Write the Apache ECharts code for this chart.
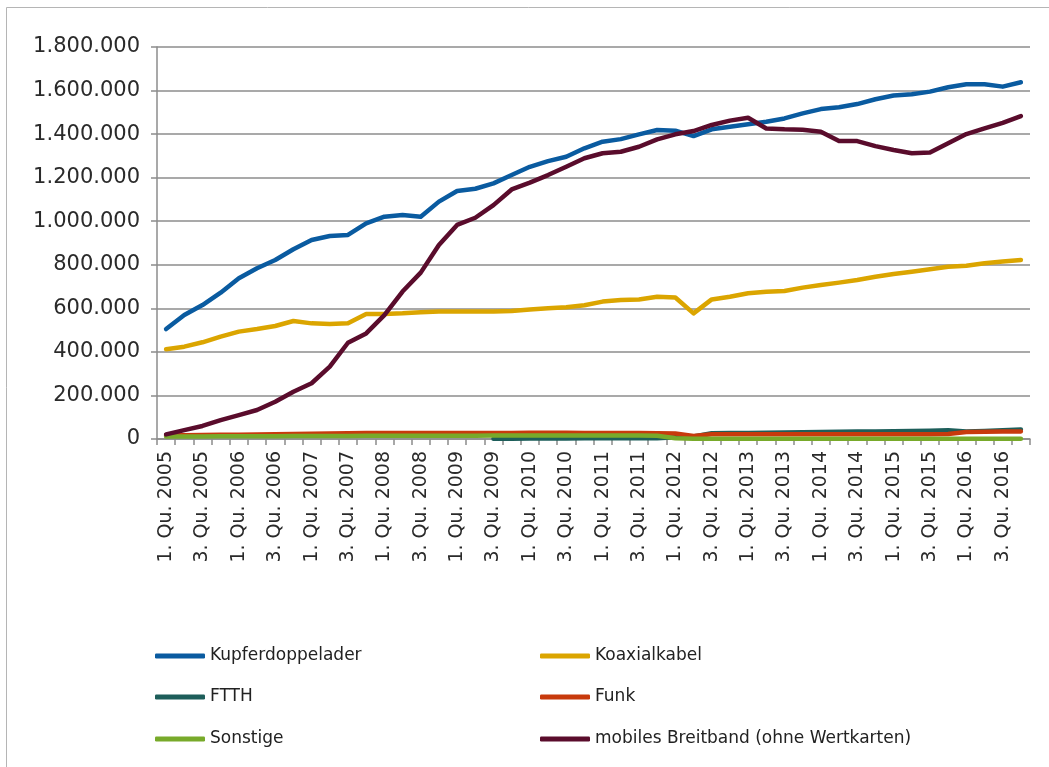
<!DOCTYPE html>
<html>
<head>
<meta charset="utf-8">
<script src="https://cdn.jsdelivr.net/npm/echarts@6/dist/echarts.min.js"></script>
<style>
  html, body { margin: 0; padding: 0; background: #ffffff; }
  #chart { width: 1049px; height: 767px; }
</style>
</head>
<body>
<div id="chart"></div>
<script>
// Quarters 1. Qu. 2005 – 4. Qu. 2016
const years = [2005, 2006, 2007, 2008, 2009, 2010, 2011, 2012, 2013, 2014, 2015, 2016];
const quarters = [1, 2, 3, 4];
const categories = [];
years.forEach(y => quarters.forEach(q => categories.push(q + '. Qu. ' + y)));

// Broadband connections per access technology
const kupferdoppelader = [505000, 569000, 615000, 672000, 738000, 784000, 822000, 871000, 914000, 932000, 937000, 990000,
  1021000, 1029000, 1021000, 1090000, 1139000, 1149000, 1174000, 1212000, 1250000, 1276000, 1296000, 1335000,
  1365000, 1377000, 1399000, 1419000, 1416000, 1391000, 1422000, 1434000, 1445000, 1457000, 1472000, 1495000,
  1515000, 1523000, 1538000, 1560000, 1577000, 1583000, 1595000, 1615000, 1629000, 1629000, 1618000, 1638000];

const koaxialkabel = [412000, 424000, 444000, 470000, 493000, 505000, 519000, 542000, 531000, 528000, 531000, 574000,
  574000, 577000, 582000, 585000, 585000, 585000, 585000, 588000, 595000, 600000, 605000, 614000,
  631000, 638000, 641000, 653000, 650000, 577000, 641000, 653000, 669000, 676000, 680000, 695000,
  707000, 718000, 730000, 745000, 758000, 768000, 779000, 791000, 796000, 807000, 815000, 822000];

const ftth = [null, null, null, null, null, null, null, null, null, null, null, null,
  null, null, null, null, null, null, 1000, 1000, 2000, 2000, 2000, 3000,
  3000, 3000, 4000, 4000, 8000, 12000, 26000, 27000, 28000, 29000, 30000, 31000,
  32000, 33000, 34000, 35000, 36000, 37000, 38000, 40000, 35000, 37000, 40000, 44000];

const funk = [16000, 17000, 18000, 19000, 20000, 21000, 22000, 23000, 24000, 25000, 26000, 27000,
  28000, 28000, 28000, 28000, 28000, 28000, 28000, 28000, 29000, 29000, 29000, 28000,
  28000, 27000, 27000, 26000, 25000, 14000, 22000, 22000, 22000, 22000, 22000, 22000,
  22000, 22000, 22000, 22000, 22000, 22000, 22000, 23000, 32000, 33000, 34000, 35000];

const sonstige = [12000, 12000, 12000, 13000, 13000, 13000, 13000, 14000, 14000, 14000, 14000, 15000,
  15000, 15000, 15000, 15000, 15000, 15000, 16000, 16000, 16000, 16000, 16000, 16000,
  16000, 16000, 16000, 15000, 3000, 1000, 1000, 1000, 1000, 1000, 1000, 1000,
  1000, 1000, 1000, 1000, 1000, 1000, 1000, 1000, 1000, 1000, 1000, 1000];

const mobilesBreitband = [21000, 41000, 60000, 87000, 110000, 133000, 171000, 217000, 256000, 332000, 442000, 485000,
  569000, 677000, 764000, 891000, 983000, 1016000, 1074000, 1146000, 1177000, 1212000, 1250000, 1289000,
  1312000, 1319000, 1342000, 1376000, 1399000, 1414000, 1442000, 1462000, 1475000, 1426000, 1422000, 1420000,
  1411000, 1368000, 1368000, 1345000, 1327000, 1312000, 1315000, 1358000, 1400000, 1426000, 1452000, 1483000];

const seriesDefs = [
  { name: 'Kupferdoppelader', data: kupferdoppelader, color: '#0a5ba0' },
  { name: 'Koaxialkabel', data: koaxialkabel, color: '#dba500' },
  { name: 'FTTH', data: ftth, color: '#1d5e5a' },
  { name: 'Funk', data: funk, color: '#c83a0c' },
  { name: 'Sonstige', data: sonstige, color: '#78aa2a' },
  { name: 'mobiles Breitband (ohne Wertkarten)', data: mobilesBreitband, color: '#5a0c2c' }
];

const FONT = '"DejaVu Sans", sans-serif';

function fmtDE(v) {
  return String(v).replace(/\B(?=(\d{3})+(?!\d))/g, '.');
}

// Two-column legend, one legend component per entry
const legendPos = [
  { left: 155, top: 645 }, { left: 540, top: 645 },
  { left: 155, top: 686 }, { left: 540, top: 686 },
  { left: 155, top: 728 }, { left: 540, top: 728 }
];
const legends = seriesDefs.map((s, i) => ({
  data: [s.name],
  left: legendPos[i].left,
  top: legendPos[i].top,
  padding: 0,
  icon: 'roundRect',
  itemWidth: 50,
  itemHeight: 5,
  itemGap: 0,
  selectedMode: false,
  textStyle: { fontFamily: FONT, fontSize: 17, color: '#222', lineHeight: 22 }
}));

const chart = echarts.init(document.getElementById('chart'), null, { renderer: 'canvas' });
chart.setOption({
  animation: false,
  backgroundColor: '#ffffff',
  graphic: [{
    type: 'rect',
    shape: { x: 6.5, y: 7.5, width: 1100, height: 800 },
    style: { fill: 'none', stroke: '#b5b5b5', lineWidth: 1 },
    silent: true
  }],
  legend: legends,
  grid: { left: 157, right: 19, top: 47, bottom: 328, containLabel: false },
  xAxis: {
    type: 'category',
    data: categories,
    boundaryGap: true,
    axisLine: { show: true, lineStyle: { color: '#8c8c8c', width: 1.5 } },
    axisTick: { show: true, interval: 0, length: 6, lineStyle: { color: '#8c8c8c', width: 1.5 } },
    axisLabel: {
      interval: 1,
      rotate: 90,
      margin: 12,
      fontFamily: FONT,
      fontSize: 19,
      color: '#2a2a2a'
    },
    splitLine: { show: false }
  },
  yAxis: {
    type: 'value',
    min: 0,
    max: 1800000,
    interval: 200000,
    axisLine: { show: true, lineStyle: { color: '#8c8c8c', width: 1.5 } },
    axisTick: { show: true, length: 6, lineStyle: { color: '#8c8c8c', width: 1.5 } },
    axisLabel: {
      margin: 17,
      fontFamily: FONT,
      fontSize: 21,
      color: '#2a2a2a',
      formatter: v => fmtDE(v)
    },
    splitLine: { show: true, lineStyle: { color: '#8c8c8c', width: 1.5 } }
  },
  series: seriesDefs.map(s => ({
    name: s.name,
    type: 'line',
    data: s.data,
    showSymbol: false,
    symbol: 'none',
    smooth: false,
    connectNulls: false,
    color: s.color,
    lineStyle: { color: s.color, width: 4.5, cap: 'round', join: 'round' },
    emphasis: { disabled: true }
  }))
});
</script>
</body>
</html>
